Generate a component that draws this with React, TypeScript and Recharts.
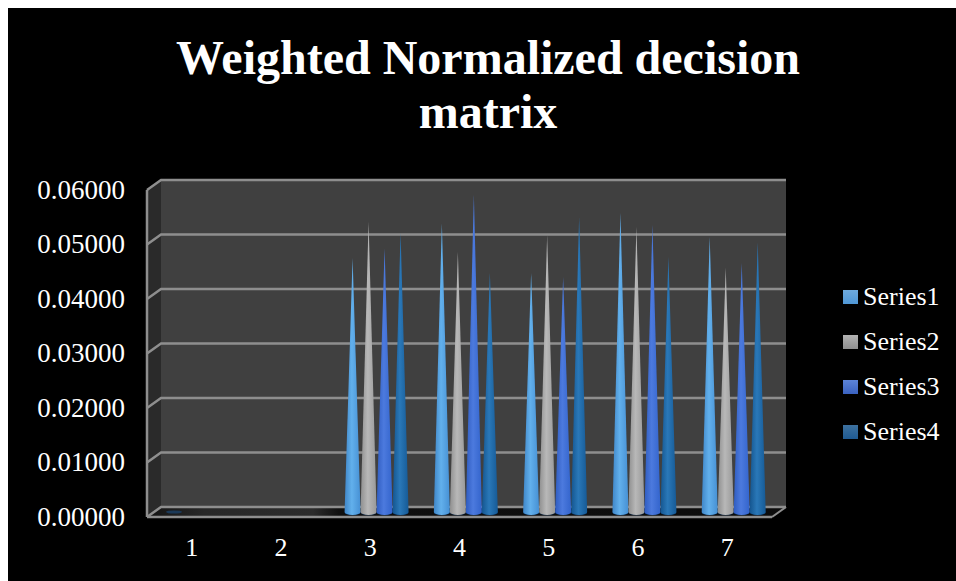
import React from 'react';
import { BarChart, Bar, XAxis, YAxis, CartesianGrid, Legend } from 'recharts';

const categories = ['1', '2', '3', '4', '5', '6', '7'];
const series1 = [0.0001, 0, 0.0466, 0.053, 0.0439, 0.0549, 0.0505];
const series2 = [0, 0, 0.0532, 0.0477, 0.0508, 0.0523, 0.0448];
const series3 = [0, 0, 0.0484, 0.0582, 0.0431, 0.0527, 0.0457];
const series4 = [0, 0, 0.0512, 0.0439, 0.0541, 0.0468, 0.0495];
const yTicks = [0, 0.01, 0.02, 0.03, 0.04, 0.05, 0.06];

const seriesNames = ['Series1', 'Series2', 'Series3', 'Series4'];
const seriesColors = ['#55a3e6', '#a8a8a8', '#3f70d8', '#1c66a8'];
// [edge, highlight, far edge] of each cone, [top, bottom] of each legend swatch
const coneShades = [
  ['#3f86c8', '#62b0ec', '#4690d4'],
  ['#8f8f8f', '#b8b8b8', '#989898'],
  ['#2f5cc0', '#4c7ade', '#3364cc'],
  ['#14558f', '#2a78b8', '#165a96'],
];
const swatchShades = [
  ['#6eaadd', '#4f97d6'],
  ['#b2b2b2', '#8e8e8e'],
  ['#5c84d8', '#3a62c0'],
  ['#3d719f', '#1f5a92'],
];

const data = categories.map((name, i) => ({
  name,
  Series1: series1[i],
  Series2: series2[i],
  Series3: series3[i],
  Series4: series4[i],
}));

const WIDTH = 948;
const HEIGHT = 573;
const FONT = '"Liberation Serif", "Times New Roman", serif';

// front plane of the 3D box, chart coordinates
const LEFT = 139;
const TOP = 182;
const RIGHT = 764;
const BOTTOM = 509;
// how far the back wall sits from the front plane
const DEPTH_X = 14;
const DEPTH_Y = -10;
const LINE = '#8e8e8e';
const LEGEND_WIDTH = 110;

const Walls = () => (
  <g>
    <defs>
      <linearGradient id="floorShade" x1="0" y1="0" x2="1" y2="0">
        <stop offset="0%" stopColor="#141414" />
        <stop offset="9%" stopColor="#282828" />
        <stop offset="26%" stopColor="#2c2c2c" />
        <stop offset="30%" stopColor="#101010" />
        <stop offset="100%" stopColor="#0c0c0c" />
      </linearGradient>
      {coneShades.map((s, i) => (
        <linearGradient key={i} id={`cone${i}`} x1="0" y1="0" x2="1" y2="0">
          <stop offset="0%" stopColor={s[0]} />
          <stop offset="45%" stopColor={s[1]} />
          <stop offset="100%" stopColor={s[2]} />
        </linearGradient>
      ))}
    </defs>
    <rect
      x={LEFT + DEPTH_X}
      y={TOP + DEPTH_Y}
      width={RIGHT - LEFT}
      height={BOTTOM - TOP}
      fill="#404040"
    />
    <polygon
      points={`${LEFT},${TOP} ${LEFT + DEPTH_X},${TOP + DEPTH_Y} ${LEFT + DEPTH_X},${BOTTOM + DEPTH_Y} ${LEFT},${BOTTOM}`}
      fill="#2a2a2a"
    />
    <polygon
      points={`${LEFT},${BOTTOM} ${LEFT + DEPTH_X},${BOTTOM + DEPTH_Y} ${RIGHT + DEPTH_X},${BOTTOM + DEPTH_Y} ${RIGHT},${BOTTOM}`}
      fill="url(#floorShade)"
    />
    <line
      x1={RIGHT}
      y1={BOTTOM}
      x2={RIGHT + DEPTH_X}
      y2={BOTTOM + DEPTH_Y}
      stroke={LINE}
      strokeWidth={2}
    />
  </g>
);

// a grid line wraps round the left wall and then runs along the back wall
const WallGridLine = (props: any) => {
  const { x1, x2, y1 } = props;
  return (
    <polyline
      points={`${x1},${y1} ${x1 + DEPTH_X},${y1 + DEPTH_Y} ${x2 + DEPTH_X},${y1 + DEPTH_Y}`}
      fill="none"
      stroke={LINE}
      strokeWidth={2.5}
    />
  );
};

// the walls share the grid's layer, so they go in through a grid of their own
const WallsOnce = (props: any) =>
  Math.abs(props.y1 - BOTTOM) < 1 ? <Walls key={props.key} /> : <g key={props.key} />;

// cone standing halfway between the front plane and the back wall
const Cone = (props: any) => {
  const { x, y, width, height, seriesIndex } = props;
  if (!(height > 0)) return null;
  const left = x + DEPTH_X / 2;
  const right = left + width;
  const tip = y + DEPTH_Y / 2;
  const base = y + height + DEPTH_Y / 2;
  const rx = width / 2;
  // a near-zero value only leaves a flat disc on the floor
  if (height <= 3) {
    return <ellipse cx={left + rx} cy={base} rx={rx} ry={1.6} fill="#1b3958" />;
  }
  return (
    <g>
      <ellipse cx={left + rx} cy={base + 0.5} rx={rx} ry={3} fill="#0b2a4c" />
      <path
        d={`M${left},${base} L${left + rx},${tip} L${right},${base} A${rx},3 0 0 1 ${left},${base} Z`}
        fill={`url(#cone${seriesIndex})`}
      />
    </g>
  );
};

const SeriesLegend = ({ payload }: any) => (
  <div style={{ fontFamily: FONT, fontSize: 26, color: '#fff' }}>
    {(payload || []).map((entry: any, i: number) => (
      <div key={entry.value} style={{ display: 'flex', alignItems: 'center', height: 45 }}>
        <span
          style={{
            display: 'inline-block',
            width: 15,
            height: 14,
            marginRight: 5,
            background: `linear-gradient(${swatchShades[i][0]}, ${swatchShades[i][1]})`,
          }}
        />
        {entry.value}
      </div>
    ))}
  </div>
);

export default function App() {
  return (
    <div style={{ position: 'absolute', left: 8, top: 8, width: WIDTH, height: HEIGHT, background: '#000' }}>
      <BarChart
        width={WIDTH}
        height={HEIGHT}
        data={data}
        margin={{ left: 39, top: TOP, right: WIDTH - RIGHT - LEGEND_WIDTH, bottom: 14 }}
        barCategoryGap={12}
        barGap={0}
      >
        <text
          x={480}
          y={66}
          textAnchor="middle"
          fill="#fff"
          style={{ fontFamily: FONT, fontSize: 48, fontWeight: 700 }}
        >
          Weighted Normalized decision
        </text>
        <text
          x={480}
          y={120}
          textAnchor="middle"
          fill="#fff"
          style={{ fontFamily: FONT, fontSize: 48, fontWeight: 700 }}
        >
          matrix
        </text>
        <CartesianGrid vertical={false} horizontal={(p: any) => <WallsOnce {...p} />} />
        <CartesianGrid vertical={false} horizontal={(p: any) => <WallGridLine key={p.key} {...p} />} />
        <XAxis
          dataKey="name"
          height={50}
          tickLine={false}
          axisLine={{ stroke: LINE, strokeWidth: 2.5 }}
          tickMargin={15}
          tick={{ fill: '#fff', fontSize: 26, fontFamily: FONT }}
        />
        <YAxis
          width={100}
          domain={[0, 0.06]}
          ticks={yTicks}
          tickFormatter={(v: number) => v.toFixed(5)}
          tickLine={false}
          axisLine={{ stroke: LINE, strokeWidth: 2.5 }}
          tickMargin={16}
          tick={{ fill: '#fff', fontSize: 27, fontFamily: FONT, dy: -1 }}
        />
        {seriesNames.map((name, i) => (
          <Bar
            key={name}
            dataKey={name}
            fill={seriesColors[i]}
            isAnimationActive={false}
            shape={(p: any) => <Cone {...p} seriesIndex={i} />}
          />
        ))}
        <Legend
          layout="vertical"
          align="right"
          verticalAlign="top"
          content={<SeriesLegend />}
          wrapperStyle={{ left: 835, top: 266, width: LEGEND_WIDTH, right: 'auto' }}
        />
      </BarChart>
    </div>
  );
}
